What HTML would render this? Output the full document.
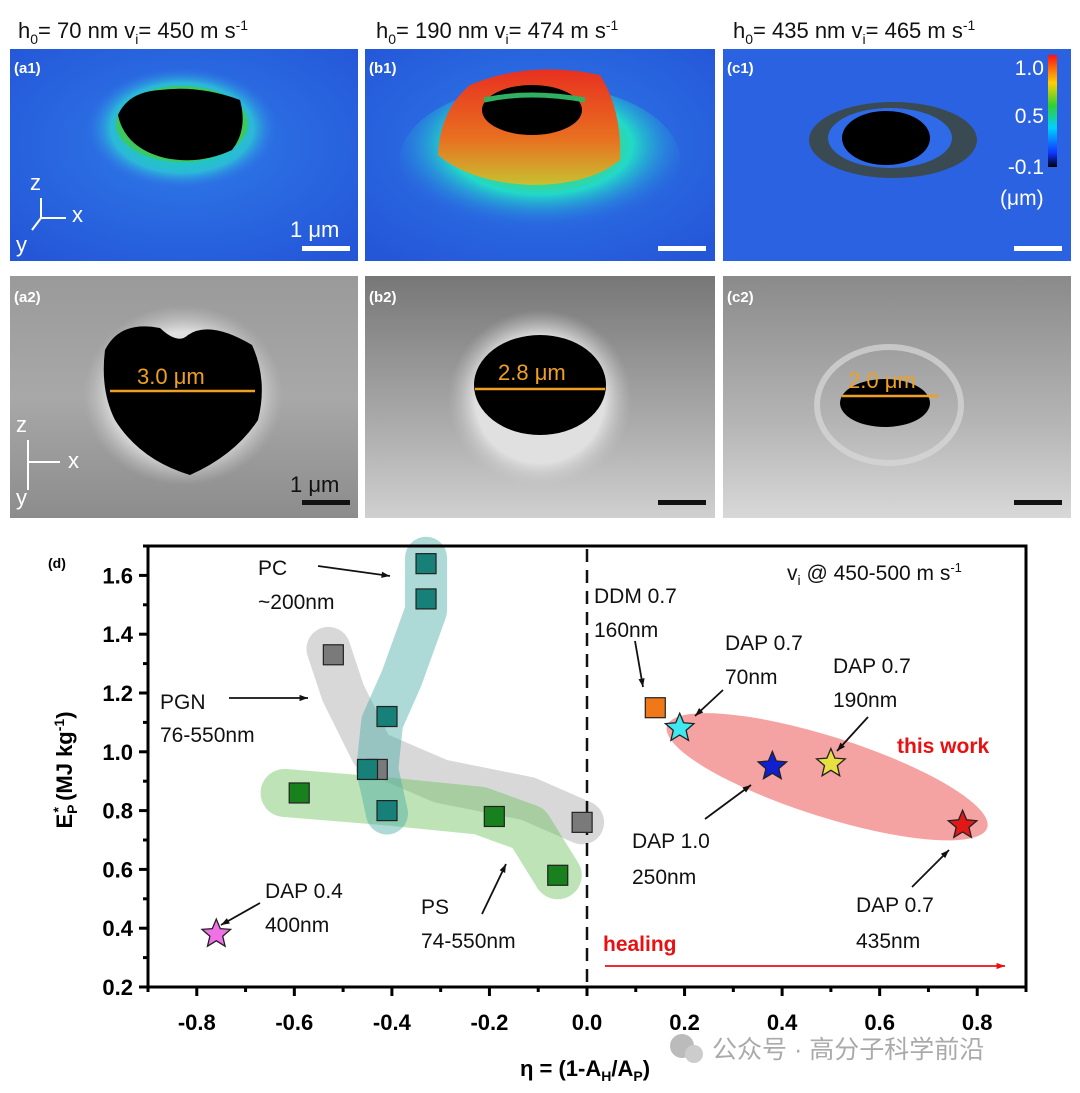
<!DOCTYPE html>
<html><head><meta charset="utf-8"><style>
html,body{margin:0;padding:0;background:#fff;}
svg{display:block;font-family:"Liberation Sans",Arial,sans-serif;}
</style></head><body>
<svg id="fig" width="1080" height="1093" viewBox="0 0 1080 1093" xmlns="http://www.w3.org/2000/svg">
<defs>
<radialGradient id="blueBg" cx="50%" cy="45%" r="70%"><stop offset="0" stop-color="#2f7ae8"/><stop offset="1" stop-color="#2456d8"/></radialGradient>
<radialGradient id="ringA" cx="50%" cy="50%" r="50%"><stop offset="0.55" stop-color="#1fc8c0"/><stop offset="0.75" stop-color="#2cb8d8"/><stop offset="1" stop-color="#2f7ae8" stop-opacity="0"/></radialGradient>
<radialGradient id="baseB" cx="50%" cy="40%" r="55%"><stop offset="0.3" stop-color="#56d24a"/><stop offset="0.6" stop-color="#22d8c8"/><stop offset="1" stop-color="#2a70e4" stop-opacity="0"/></radialGradient>
<linearGradient id="volc" x1="0" y1="0" x2="0" y2="1"><stop offset="0" stop-color="#e83020"/><stop offset="0.6" stop-color="#e87020"/><stop offset="1" stop-color="#c8c030"/></linearGradient>
<linearGradient id="cbar" x1="0" y1="1" x2="0" y2="0"><stop offset="0" stop-color="#000"/><stop offset="0.12" stop-color="#1030ff"/><stop offset="0.35" stop-color="#00d0ff"/><stop offset="0.55" stop-color="#30d030"/><stop offset="0.75" stop-color="#ffd000"/><stop offset="1" stop-color="#ff1010"/></linearGradient>
<linearGradient id="semA" x1="0" y1="0" x2="0" y2="1"><stop offset="0" stop-color="#9a9a9a"/><stop offset="0.5" stop-color="#a8a8a8"/><stop offset="1" stop-color="#8c8c8c"/></linearGradient>
<linearGradient id="semB" x1="0" y1="0" x2="0" y2="1"><stop offset="0" stop-color="#777"/><stop offset="0.6" stop-color="#aaa"/><stop offset="1" stop-color="#d0d0d0"/></linearGradient>
<linearGradient id="semC" x1="0" y1="0" x2="0" y2="1"><stop offset="0" stop-color="#8a8a8a"/><stop offset="0.6" stop-color="#b4b4b4"/><stop offset="1" stop-color="#d8d8d8"/></linearGradient>
<radialGradient id="rim" cx="50%" cy="50%" r="50%"><stop offset="0.7" stop-color="#e0e0e0"/><stop offset="1" stop-color="#c0c0c0" stop-opacity="0"/></radialGradient>
</defs>

<g font-size="22" fill="#111">
<text x="18" y="38">h<tspan font-size="14" dy="6">0</tspan><tspan dy="-6">= 70 nm  v</tspan><tspan font-size="14" dy="6">i</tspan><tspan dy="-6">= 450 m s</tspan><tspan font-size="14" dy="-8">-1</tspan></text>
<text x="376" y="38">h<tspan font-size="14" dy="6">0</tspan><tspan dy="-6">= 190 nm  v</tspan><tspan font-size="14" dy="6">i</tspan><tspan dy="-6">= 474 m s</tspan><tspan font-size="14" dy="-8">-1</tspan></text>
<text x="733" y="38">h<tspan font-size="14" dy="6">0</tspan><tspan dy="-6">= 435 nm  v</tspan><tspan font-size="14" dy="6">i</tspan><tspan dy="-6">= 465 m s</tspan><tspan font-size="14" dy="-8">-1</tspan></text>
</g>

<g>
<rect x="10" y="49" width="348" height="212" fill="url(#blueBg)"/>
<ellipse cx="182" cy="128" rx="95" ry="60" fill="url(#ringA)"/>
<ellipse cx="182" cy="124" rx="66" ry="38" fill="#3cc860"/>
<path d="M118 115 Q128 92 160 90 Q200 85 240 100 Q248 130 232 150 Q200 165 165 158 Q125 148 118 115Z" fill="#000"/>
<text x="14" y="73" font-size="15" font-weight="bold" fill="#fff">(a1)</text>
<text x="30" y="190" font-size="22" fill="#fff">z</text>
<text x="72" y="222" font-size="22" fill="#fff">x</text>
<text x="16" y="252" font-size="22" fill="#fff">y</text>
<path d="M41 218 V198 M41 218 H66 M41 218 L32 230" stroke="#fff" stroke-width="2" fill="none"/>
<text x="290" y="237" font-size="22" fill="#fff">1 μm</text>
<rect x="302" y="246" width="48" height="5" fill="#fff"/>
</g>
<g>
<rect x="365" y="49" width="350" height="212" fill="url(#blueBg)"/>
<ellipse cx="540" cy="160" rx="140" ry="75" fill="url(#baseB)"/>
<path d="M438 155 Q440 110 470 85 Q530 60 600 75 Q622 110 620 160 Q590 185 530 185 Q470 182 438 155Z" fill="url(#volc)"/>
<ellipse cx="532" cy="110" rx="50" ry="25" fill="#000"/>
<path d="M484 100 Q530 90 585 100" stroke="#30b060" stroke-width="5" fill="none"/>
<text x="369" y="73" font-size="15" font-weight="bold" fill="#fff">(b1)</text>
<rect x="658" y="246" width="48" height="5" fill="#fff"/>
</g>
<g>
<rect x="723" y="49" width="348" height="212" fill="#2a62e2"/>
<ellipse cx="893" cy="140" rx="84" ry="38" fill="#3a4a52"/>
<ellipse cx="890" cy="138" rx="62" ry="30" fill="#2f6ae8"/>
<ellipse cx="886" cy="138" rx="44" ry="27" fill="#000"/>
<text x="727" y="73" font-size="15" font-weight="bold" fill="#fff">(c1)</text>
<rect x="1048" y="55" width="9" height="112" fill="url(#cbar)"/>
<g font-size="21" fill="#fff" text-anchor="end">
<text x="1044" y="75">1.0</text><text x="1044" y="123">0.5</text><text x="1044" y="174">-0.1</text>
</g>
<text x="1000" y="205" font-size="21" fill="#fff">(μm)</text>
<rect x="1014" y="246" width="48" height="5" fill="#fff"/>
</g>

<g>
<rect x="10" y="276" width="348" height="242" fill="url(#semA)"/>
<ellipse cx="183" cy="395" rx="100" ry="90" fill="url(#rim)"/>
<path d="M105 350 Q120 320 160 328 Q178 345 188 335 Q210 320 252 345 Q268 380 258 420 Q235 455 190 475 Q140 460 115 420 Q100 390 105 350Z" fill="#000"/>
<line x1="110" y1="391" x2="255" y2="391" stroke="#f0a020" stroke-width="2.5"/>
<text x="137" y="384" font-size="22" fill="#f0a020">3.0 μm</text>
<text x="14" y="302" font-size="15" font-weight="bold" fill="#fff">(a2)</text>
<text x="16" y="432" font-size="22" fill="#fff">z</text><text x="68" y="468" font-size="22" fill="#fff">x</text><text x="16" y="505" font-size="22" fill="#fff">y</text>
<path d="M28 462 V440 M28 462 H60 M28 462 V490" stroke="#fff" stroke-width="2" fill="none"/>
<text x="290" y="492" font-size="22" fill="#111">1 μm</text>
<rect x="302" y="500" width="48" height="5" fill="#111"/>
</g>
<g>
<rect x="365" y="276" width="350" height="242" fill="url(#semB)"/>
<ellipse cx="540" cy="400" rx="92" ry="90" fill="url(#rim)"/>
<ellipse cx="540" cy="385" rx="66" ry="50" fill="#000"/>
<line x1="475" y1="389" x2="605" y2="389" stroke="#f0a020" stroke-width="2.5"/>
<text x="498" y="380" font-size="22" fill="#f0a020">2.8 μm</text>
<text x="369" y="302" font-size="15" font-weight="bold" fill="#fff">(b2)</text>
<rect x="658" y="500" width="48" height="5" fill="#111"/>
</g>
<g>
<rect x="723" y="276" width="348" height="242" fill="url(#semC)"/>
<ellipse cx="889" cy="405" rx="72" ry="58" fill="none" stroke="#d8d8d8" stroke-width="6" opacity="0.7"/>
<ellipse cx="885" cy="403" rx="45" ry="24" fill="#000"/>
<line x1="842" y1="396" x2="938" y2="396" stroke="#f0a020" stroke-width="2.5"/>
<text x="848" y="388" font-size="22" fill="#f0a020">2.0 μm</text>
<text x="727" y="302" font-size="15" font-weight="bold" fill="#fff">(c2)</text>
<rect x="1014" y="500" width="48" height="5" fill="#111"/>
</g>

<g id="chart"></g>
</svg>
<script>
const xTicks = [-0.8,-0.6,-0.4,-0.2,0.0,0.2,0.4,0.6,0.8];
const yTicks = [0.2,0.4,0.6,0.8,1.0,1.2,1.4,1.6];
const pcX = [-0.33,-0.33,-0.41,-0.45,-0.41];
const pcY = [1.64,1.52,1.12,0.94,0.80];
const pgnX = [-0.52,-0.43,-0.01];
const pgnY = [1.33,0.94,0.76];
const psX = [-0.59,-0.19,-0.06];
const psY = [0.86,0.78,0.58];
const ddmX = [0.14];
const ddmY = [1.15];
const starX = [0.19,0.38,0.50,0.77,-0.76];
const starY = [1.08,0.95,0.96,0.75,0.38];
const starColors = ["#40e8f0","#1020d0","#e8e040","#e01818","#f070e8"];
const pcBandX=[-0.33,-0.33,-0.38,-0.42,-0.43,-0.41], pcBandY=[1.66,1.48,1.25,1.1,0.94,0.79];
const pgnBandX=[-0.53,-0.5,-0.44,-0.3,-0.12,-0.01], pgnBandY=[1.35,1.2,1.0,0.9,0.84,0.76];
const psBandX=[-0.62,-0.4,-0.22,-0.12,-0.06], psBandY=[0.86,0.83,0.80,0.74,0.58];

const L=148,R=1026,T=546,B=987, X0=-0.9,X1=0.9,Y0=0.2,Y1=1.7;
const sx=v=>L+(v-X0)/(X1-X0)*(R-L);
const sy=v=>B-(v-Y0)/(Y1-Y0)*(B-T);
const NS="http://www.w3.org/2000/svg";
const g=document.getElementById('chart');
function mk(tag,attrs,parent){const e=document.createElementNS(NS,tag);for(const k in attrs)e.setAttribute(k,attrs[k]);(parent||g).appendChild(e);return e;}
function txt(x,y,s,attrs){const e=mk('text',Object.assign({x:x,y:y},attrs||{}));e.textContent=s;return e;}
function band(xs,ys,color,w,name){
  let d='';xs.forEach((v,i)=>{d+=(i?'L':'M')+sx(v)+' '+sy(ys[i])+' ';});
  const p=mk('path',{d:d,stroke:color,'stroke-width':w,'stroke-linecap':'round','stroke-linejoin':'round',fill:'none',opacity:0.45});
  
  
}
band(pgnBandX,pgnBandY,'#a8a8a8',44,'pgn-band');
band(psBandX,psBandY,'#6cc060',48,'ps-band');
band(pcBandX,pcBandY,'#4aaaa6',42,'pc-band');
const ex1=sx(starX[0])-10,ey1=sy(starY[0]),ex2=sx(starX[3])+12,ey2=sy(starY[3]);
const ang=Math.atan2(ey2-ey1,ex2-ex1)*180/Math.PI;
const ell=mk('ellipse',{cx:(ex1+ex2)/2+5,cy:(ey1+ey2)/2,rx:Math.hypot(ex2-ex1,ey2-ey1)/2+8,ry:40,fill:'#f07070',opacity:0.65,transform:`rotate(${ang} ${(ex1+ex2)/2+5} ${(ey1+ey2)/2})`});


const dl=mk('line',{x1:sx(0),x2:sx(0),y1:T+3,y2:B,stroke:'#111','stroke-width':2.5,'stroke-dasharray':'13 8'});


const frame=mk('rect',{x:L,y:T,width:R-L,height:B-T,fill:'none',stroke:'#000','stroke-width':3});


for(let v=-0.9;v<=0.901;v+=0.1){const major=xTicks.some(t=>Math.abs(t-v)<1e-6);mk('line',{x1:sx(v),x2:sx(v),y1:B,y2:B+(major?9:5),stroke:'#000','stroke-width':3});}
for(let v=0.2;v<=1.701;v+=0.1){const major=yTicks.some(t=>Math.abs(t-v)<1e-6);mk('line',{x1:L,x2:L-(major?9:5),y1:sy(v),y2:sy(v),stroke:'#000','stroke-width':3});}
xTicks.forEach(v=>{const t=txt(sx(v),1030,v.toFixed(1),{'font-size':22,'font-weight':'bold','text-anchor':'middle'});});
yTicks.forEach(v=>{const t=txt(133,sy(v)+8,v.toFixed(1),{'font-size':22,'font-weight':'bold','text-anchor':'end'});});
function squares(xs,ys,fill,name){xs.forEach((v,i)=>{const r=mk('rect',{x:sx(v)-10,y:sy(ys[i])-10,width:20,height:20,fill:fill,stroke:'#222','stroke-width':1.2});});}
squares(pgnX,pgnY,'#7a7a7a','pgn-point');
squares(pcX,pcY,'#178078','pc-point');
squares(psX,psY,'#18801c','ps-point');
squares(ddmX,ddmY,'#f07818','ddm-point');
function star(cx,cy,r,fill){let d='';for(let i=0;i<10;i++){const rr=i%2?r*0.45:r;const a=-Math.PI/2+i*Math.PI/5;d+=(i?'L':'M')+(cx+rr*Math.cos(a)).toFixed(1)+' '+(cy+rr*Math.sin(a)).toFixed(1);}return mk('path',{d:d+'Z',fill:fill,stroke:'#222','stroke-width':1.3});}
starX.forEach((v,i)=>{const s=star(sx(v),sy(starY[i]),15,starColors[i]);});
const F={'font-size':21,fill:'#111'};
function arrow(x1,y1,x2,y2,c){c=c||'#111';mk('line',{x1:x1,y1:y1,x2:x2,y2:y2,stroke:c,'stroke-width':1.8});const a=Math.atan2(y2-y1,x2-x1),h=9;mk('path',{d:`M${x2} ${y2}L${x2-h*Math.cos(a-0.35)} ${y2-h*Math.sin(a-0.35)}L${x2-h*Math.cos(a+0.35)} ${y2-h*Math.sin(a+0.35)}Z`,fill:c});}
txt(258,575,'PC',F);txt(258,609,'~200nm',F);arrow(318,566,390,576);
txt(160,709,'PGN',F);txt(160,742,'76-550nm',F);arrow(229,698,308,698);
txt(265,898,'DAP 0.4',F);txt(265,932,'400nm',F);arrow(260,903,221,925);
txt(421,914,'PS',F);txt(421,948,'74-550nm',F);arrow(482,914,506,864);
txt(594,603,'DDM 0.7',F);txt(594,637,'160nm',F);arrow(635,641,643,687);
txt(725,650,'DAP 0.7',F);txt(725,684,'70nm',F);arrow(723,690,695,716);
txt(833,673,'DAP 0.7',F);txt(833,707,'190nm',F);arrow(868,717,837,751);
txt(632,848,'DAP 1.0',F);txt(632,884,'250nm',F);arrow(705,819,751,785);
txt(856,912,'DAP 0.7',F);txt(856,948,'435nm',F);arrow(912,887,949,850);
txt(897,753,'this work',{'font-size':21,'font-weight':'bold',fill:'#e81010'});
txt(603,951,'healing',{'font-size':21,'font-weight':'bold',fill:'#e81010'});
arrow(605,966,1005,966,'#e81010');
const vt=txt(787,580,'',F);vt.innerHTML='v<tspan font-size="14" dy="5">i</tspan><tspan dy="-5"> @ 450-500 m s</tspan><tspan font-size="13" dy="-8">-1</tspan>';
txt(48,568,'(d)',{'font-size':14,'font-weight':'bold'});
const xt=txt(585,1076,'',{'font-size':22,'font-weight':'bold','text-anchor':'middle'});
xt.innerHTML='η = (1-A<tspan font-size="14" dy="5">H</tspan><tspan dy="-5">/A</tspan><tspan font-size="14" dy="5">P</tspan><tspan dy="-5">)</tspan>';

const yt=txt(0,0,'',{'font-size':22,'font-weight':'bold','text-anchor':'middle',transform:'translate(72 770) rotate(-90)'});
yt.innerHTML='E<tspan font-size="14" dy="5">P</tspan><tspan font-size="14" dx="-8" dy="-14">*</tspan><tspan dy="9"> (MJ kg</tspan><tspan font-size="14" dy="-8">-1</tspan><tspan dy="8">)</tspan>';

mk('circle',{cx:682,cy:1046,r:12,fill:'#bbb'});mk('circle',{cx:694,cy:1054,r:9,fill:'#ccc'});
const wm=txt(712,1058,'公众号 · 高分子科学前沿',{'font-size':25,fill:'#aaa','font-family':'"Liberation Sans","Noto Sans CJK SC",sans-serif'});

</script>
</body></html>
